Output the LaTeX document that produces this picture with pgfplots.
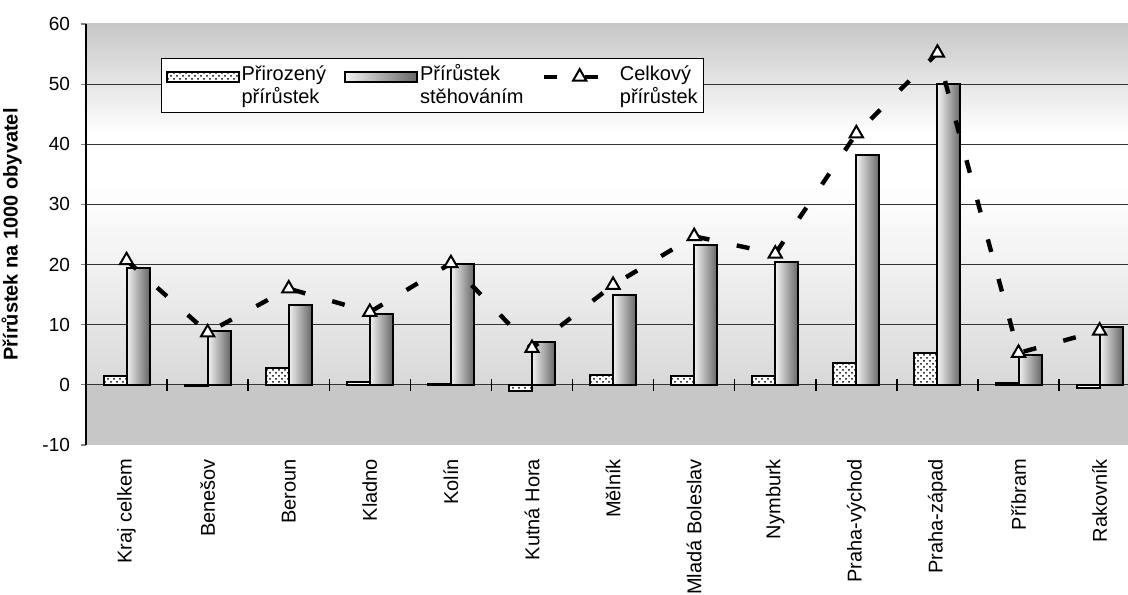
\documentclass[border=0pt]{standalone}
\usepackage{fontspec}
\setmainfont{Liberation Sans}
\usepackage{pgfplots}
\usepackage{pgfplotstable}
\pgfplotsset{compat=1.18}
\usetikzlibrary{patterns}

% background of the plot area: grey at top, white near 35, grey below zero
\pgfdeclareverticalshading{plotbg}{100bp}{%
  color(0bp)=(black!22); color(32.1bp)=(black!22);
  color(32.3bp)=(black!15); color(47bp)=(black!5);
  color(56bp)=(white); color(62bp)=(white);
  color(75bp)=(black!22); color(100bp)=(black!22)}

\pgfplotsset{
  barlegend/.style={legend image code/.code={\draw[##1] (0pt,2pt) rectangle (36pt,7pt);}},
  linelegend/.style={legend image code/.code={\draw[##1, mark repeat=2, mark phase=2]
    plot coordinates {(0pt,4.5pt) (18pt,4.5pt) (36pt,4.5pt)};}},
  stehbar/.style={ybar, bar width=11.5pt, bar shift=5.75pt, draw=black, line width=1pt,
    left color=black!5, right color=black!60},
}

\pgfplotstableread{
x prir steh celk
0   1.4  19.35 20.7
1  -0.2   8.95  8.7
2   2.8  13.3  16.0
3   0.45 11.8  12.1
4   0.15 20.05 20.2
5  -1.0   7.2   6.1
6   1.65 15.0  16.6
7   1.4  23.3  24.7
8   1.4  20.4  21.8
9   3.6  38.2  41.8
10  5.35 50.0  55.2
11  0.3   5.0   5.3
12 -0.55  9.55  9.0
}\data

\begin{document}
\begin{tikzpicture}
\begin{axis}[
  scale only axis,
  width=521pt, height=210.5pt,
  xmin=-0.5, xmax=12.35,
  ymin=-10, ymax=60,
  ytick={-10,0,...,60},
  extra y ticks={0,10,...,50},
  extra y tick labels={},
  extra y tick style={grid=major, major tick length=0pt},
  grid style={black!80, line width=0.6pt},
  axis y line*=left,
  axis x line*=bottom,
  x axis line style={draw=none},
  y axis line style={line width=0.6pt},
  xtick={0,...,12},
  xtick style={draw=none},
  xticklabels={Kraj celkem, Benešov, Beroun, Kladno, Kolín, Kutná Hora, Mělník, Mladá Boleslav, Nymburk, Praha-východ, Praha-západ, Příbram, Rakovník},
  x tick label style={rotate=90, anchor=east, font=\fontsize{10}{11}\selectfont},
  xticklabel shift=1pt,
  y tick label style={font=\fontsize{9.5}{10}\selectfont},
  yticklabel shift=2pt,
  tick align=outside,
  major tick length=2.5pt,
  ytick style={line width=0.6pt},
  /pgf/number format/assume math mode=true,
  ylabel={\bfseries Přírůstek na 1000 obyvatel},
  ylabel style={font=\fontsize{10}{11}\selectfont, yshift=-3pt},
  axis background/.style={shading=plotbg},
  clip=false,
  legend columns=3,
  legend style={at={(0.072,0.919)}, anchor=north west, draw=black, fill=white,
    line width=0.6pt, inner sep=2pt,
    font=\fontsize{10}{11.5}\selectfont,
    nodes={align=left, inner sep=1pt},
    /tikz/every even column/.append style={column sep=8pt}},
]

\addplot[ybar, bar width=11.5pt, bar shift=-5.75pt, draw=black, line width=1pt,
  fill=white, postaction={pattern=crosshatch dots, pattern color=black},
  barlegend]
  table[x=x, y=prir] {\data};
\addlegendentry{Přirozený\\přírůstek}

% one plot per bar so that each bar gets its own shading
\pgfplotsinvokeforeach{0,...,12}{
  \addplot[stehbar, forget plot, restrict x to domain=#1:#1]
    table[x=x, y=steh] {\data};
}
\addlegendimage{stehbar, barlegend}
\addlegendentry{Přírůstek\\stěhováním}

\addplot[black, line width=2.2pt, dash pattern=on 6.5pt off 14pt,
  mark=triangle*, mark size=3.8pt,
  mark options={solid, fill=white, draw=black, line width=1pt},
  linelegend]
  table[x=x, y=celk] {\data};
\addlegendentry{Celkový\\přírůstek}

% short ticks across the zero line between the categories
\pgfplotsinvokeforeach{0.5,1.5,...,11.5}{
  \draw[black, line width=0.7pt] ([yshift=-3pt]axis cs:#1,0) -- ([yshift=3pt]axis cs:#1,0);
}
\coordinate (ll) at (rel axis cs:0,0);
\coordinate (ur) at (rel axis cs:1,1);
\end{axis}
\pgfresetboundingbox
\path ([xshift=-43pt, yshift=-75pt]ll) rectangle ([yshift=12pt]ur);
\end{tikzpicture}
\end{document}
